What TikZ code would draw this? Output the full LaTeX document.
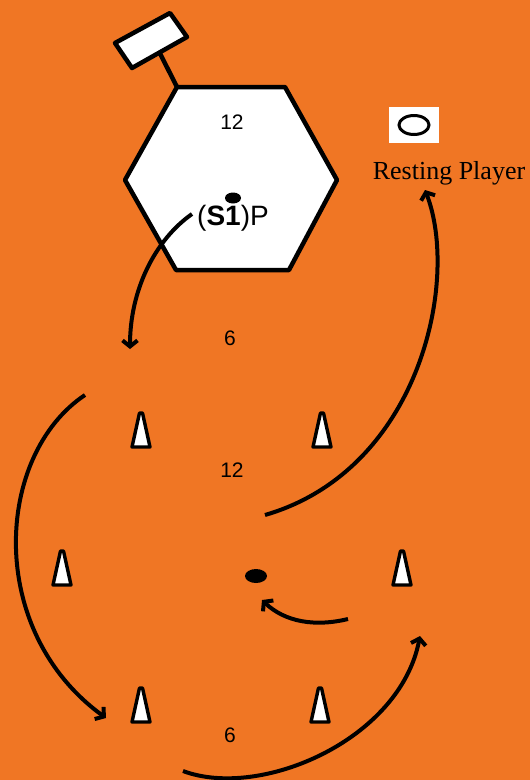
\documentclass[tikz,border=0pt]{standalone}
\usepackage{fontspec}
\setmainfont{Liberation Serif}
\setsansfont{Liberation Sans}
\usetikzlibrary{arrows.meta,shapes.geometric}
\definecolor{bg}{RGB}{240,118,36}
\begin{document}
\begin{tikzpicture}[x=1pt,y=-1pt,
  cone/.style={draw=black, line width=3.4pt, fill=white, line join=round},
  outline/.style={draw=black, line width=4.5pt, fill=white, line join=round},
  lbl/.style={font=\fontsize{21}{21}\selectfont\sffamily, inner sep=0pt},
  mv/.style={line width=4pt, -{Straight Barb[length=6pt,width=15pt,line width=4pt]}},
  player/.style={ellipse, fill=black, inner sep=0pt},
]
\fill[bg] (0,0) rectangle (530,780);
\useasboundingbox (0,0) rectangle (530,780);

% sign on post
\coordinate (s1) at (115,43);
\coordinate (s2) at (170,13);
\coordinate (s3) at (187,37);
\coordinate (s4) at (132,68);
\coordinate (post) at (159.5,52.5);
% hexagon corners
\coordinate (hTL) at (177,87);
\coordinate (hTR) at (285,87);
\coordinate (hR) at (337,180);
\coordinate (hBR) at (289,270);
\coordinate (hBL) at (176,270);
\coordinate (hL) at (125,180);

\draw[line width=4.5pt] (post) -- (hTL);
\draw[outline] (s1) -- (s2) -- (s3) -- (s4) -- cycle;
\draw[outline] (hTL) -- (hTR) -- (hR) -- (hBR) -- (hBL) -- (hL) -- cycle;

\node[lbl] (n12a) at (232,122) {12};
\node[player, minimum width=16pt, minimum height=11pt] (p1) at (233,198) {};
\node[font=\fontsize{28}{28}\selectfont\sffamily, inner sep=0pt] (s1p) at (233,218) {(\textbf{S1})P};

% resting player
\node[fill=white, minimum width=50pt, minimum height=36pt, inner sep=0pt] (rbox) at (414,125) {};
\node[ellipse, draw=black, line width=3pt, minimum width=30pt, minimum height=19pt, inner sep=0pt] (rp) at (rbox) {};
\node[font=\fontsize{26}{26}\selectfont\rmfamily, inner sep=0pt] (rest) at (449,173) {Resting Player};

\node[lbl] (n6a) at (230,338) {6};
\node[lbl] (n12b) at (232,470) {12};
\node[lbl] (n6b) at (230,735) {6};

% cones
\foreach \n/\x/\y in {c1/141/430, c2/322/430, c3/62/568, c4/402/568, c5/141/705, c6/320/705} {
  \coordinate (\n) at (\x,\y);
  \draw[cone] ([shift={(-9,17)}]\n) -- ([shift={(-1.5,-17)}]\n) -- ([shift={(1.5,-17)}]\n) -- ([shift={(9,17)}]\n) -- cycle;
}

\node[player, minimum width=22pt, minimum height=14pt] (p2) at (256,576) {};

% movement arrows
\coordinate (a1s) at (192,214);
\coordinate (a1e) at (130,349);
\draw[mv] (a1s) .. controls (155,240) and (130,290) .. (a1e);

\coordinate (a2s) at (85,395);
\coordinate (a2e) at (106,718);
\draw[mv] (a2s) .. controls (-5,455) and (-15,630) .. (a2e);

\coordinate (a3s) at (265,515);
\coordinate (a3e) at (425,190);
\draw[mv] (a3s) .. controls (420,470) and (460,280) .. (a3e);

\coordinate (a4s) at (348,619);
\coordinate (a4e) at (262,600);
\draw[mv] (a4s) .. controls (315,627) and (285,622) .. (a4e);

\coordinate (a5s) at (183,771);
\coordinate (a5e) at (420,636);
\draw[mv] (a5s) .. controls (260,800) and (400,740) .. (a5e);
\end{tikzpicture}
\end{document}
